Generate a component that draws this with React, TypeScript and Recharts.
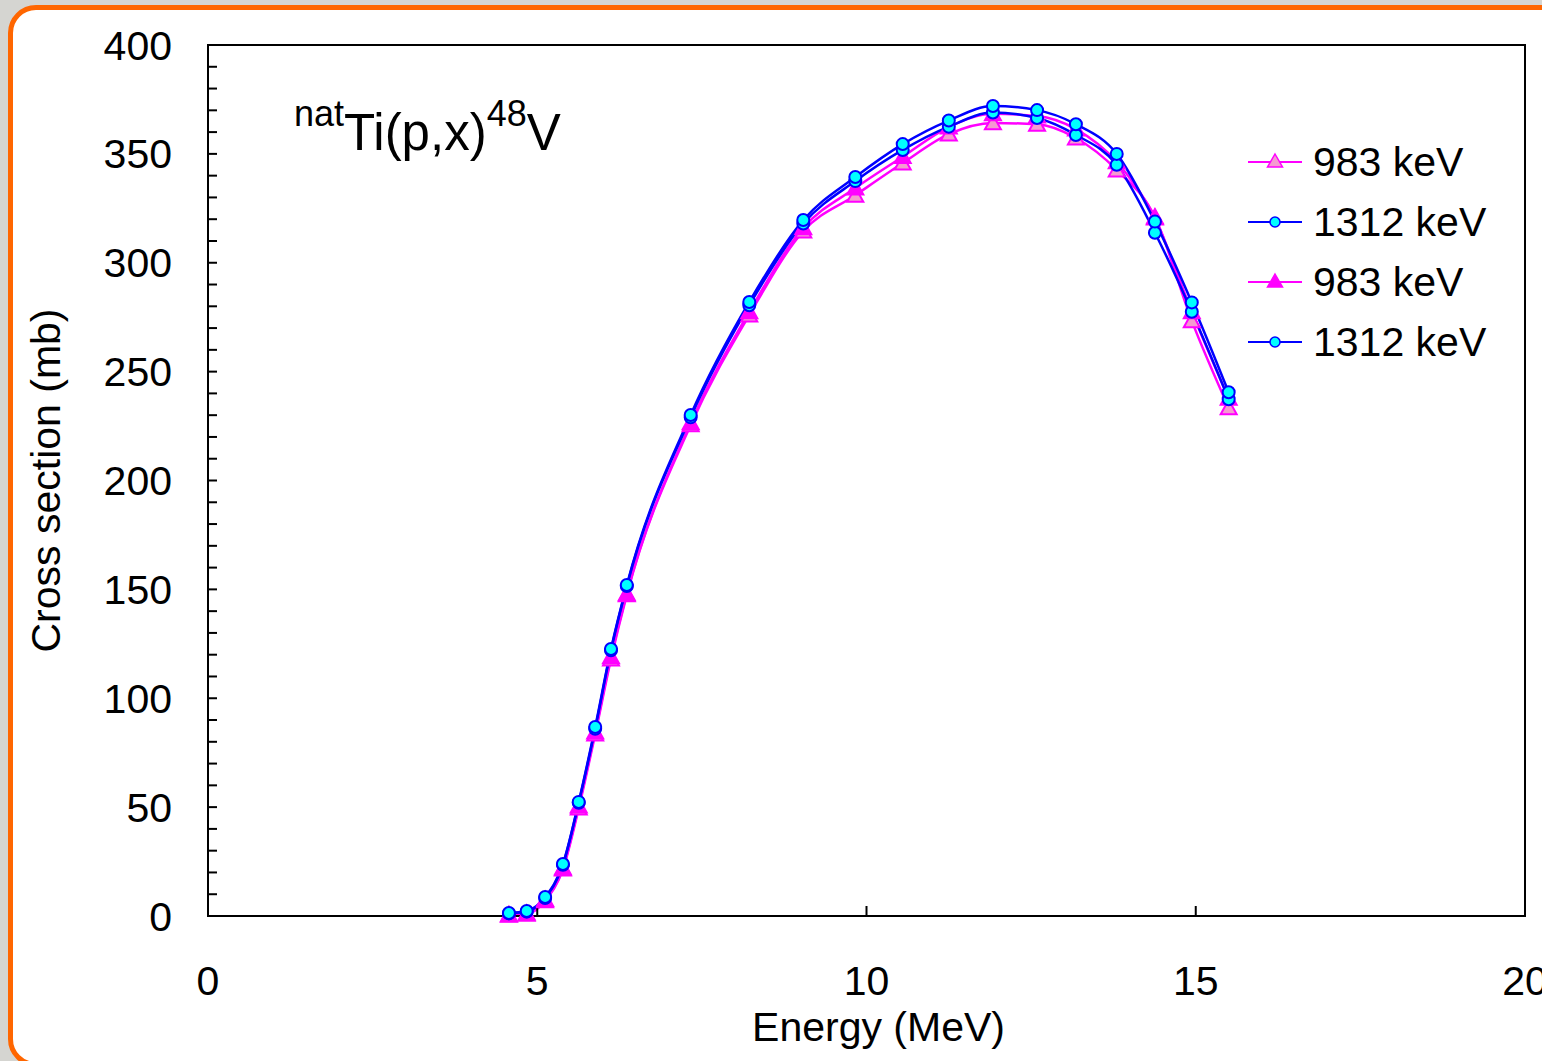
import React from 'react';
import {
  LineChart,
  Line,
  XAxis,
  YAxis,
  ReferenceArea
} from 'recharts';

// proton energy at each measured point (MeV)
const energy = [4.57, 4.84, 5.12, 5.39, 5.63, 5.88, 6.12, 6.36, 7.33, 8.22, 9.04, 9.83, 10.55, 11.25, 11.92, 12.59, 13.18, 13.80, 14.38, 14.94, 15.50];

// cross sections (mb)
const open983 = [0.3, 0.8, 7, 21.5, 49.5, 83.5, 118, 147.5, 225.5, 276, 314.5, 331, 345.8, 359.1, 364.2, 363.6, 357.3, 342.6, 321, 273.3, 233.4];
const upper1312 = [1.4, 2.3, 8.7, 23.9, 52.4, 86.8, 122.6, 152, 230.1, 282, 319.6, 339.4, 354.5, 365.3, 372, 370.1, 363.6, 350, 318.9, 281.8, 240.5];
const filled983 = [0.5, 1.2, 7.5, 22, 50.5, 84.5, 119, 148, 226.5, 277.5, 316, 334.3, 348.7, 362.3, 368.4, 367.4, 361.4, 346.3, 320.5, 277.5, 237.7];
const lower1312 = [1.2, 2, 8.3, 23.5, 52, 86, 122, 151.5, 229, 280.5, 318, 337.5, 351.8, 362.5, 369, 366.5, 358.7, 345, 313.8, 277.5, 237.3];

const xTicks = [0, 5, 10, 15, 20];
const yTicks = Array.from({ length: 41 }, (_, i) => i * 10);
const legendLabels = ['983 keV', '1312 keV', '983 keV', '1312 keV'];

const data = energy.map((e, i) => ({
  e,
  a: open983[i],
  b: upper1312[i],
  c: filled983[i],
  d: lower1312[i]
}));

const MAGENTA = '#ff00ff';
const BLUE = '#0000ff';
const CYAN = '#00ffff';
const PINK = '#f59ad0';
const FONT = '"Liberation Sans", Arial, sans-serif';

const triangle = (fill: string) => (props: any) => {
  const { cx, cy, index } = props;
  if (cx == null || cy == null) return <g key={index} />;
  const s = 8;
  return (
    <polygon
      key={index}
      points={`${cx},${cy - s} ${cx + s},${cy + s * 0.8} ${cx - s},${cy + s * 0.8}`}
      fill={fill}
      stroke={MAGENTA}
      strokeWidth={2}
    />
  );
};

const circle = (props: any) => {
  const { cx, cy, index } = props;
  if (cx == null || cy == null) return <g key={index} />;
  return <circle key={index} cx={cx} cy={cy} r={6} fill={CYAN} stroke={BLUE} strokeWidth={2} />;
};

const LegendIcon: React.FC<{ kind: number }> = ({ kind }) => {
  const color = kind % 2 === 0 ? MAGENTA : BLUE;
  return (
    <svg width={56} height={20} style={{ display: 'block' }}>
      <line x1={0} y1={10} x2={54} y2={10} stroke={color} strokeWidth={2} />
      {kind === 0 && <polygon points="27,2 34.5,15 19.5,15" fill={PINK} stroke={MAGENTA} strokeWidth={1.5} />}
      {kind === 2 && <polygon points="27,2 34.5,15 19.5,15" fill={MAGENTA} stroke={MAGENTA} strokeWidth={1.5} />}
      {kind % 2 === 1 && <circle cx={27} cy={10} r={5} fill={CYAN} stroke={BLUE} strokeWidth={1.5} />}
    </svg>
  );
};

const App: React.FC = () => {
  return (
    <div style={{ position: 'fixed', left: 0, top: 0, width: 1542, height: 1061, overflow: 'hidden', background: '#d5d5d1' }}>
      <div
        style={{
          position: 'absolute',
          left: 8,
          top: 5,
          width: 1560,
          height: 1062,
          boxSizing: 'border-box',
          border: '5px solid #ff6600',
          borderRadius: 28,
          background: '#ffffff'
        }}
      />
      <div style={{ position: 'absolute', left: 0, top: 0 }}>
        <LineChart
          width={1542}
          height={1061}
          data={data}
          margin={{ top: 45, right: 17, bottom: 65, left: 0 }}
          style={{ overflow: 'visible' }}
        >
          <XAxis
            dataKey="e"
            type="number"
            domain={[0, 20]}
            ticks={xTicks}
            height={80}
            tickSize={-10}
            tickMargin={60}
            stroke="#000"
            axisLine={{ stroke: '#000', strokeWidth: 2 }}
            tickLine={{ stroke: '#000', strokeWidth: 2 }}
            tick={{ fill: '#000', fontSize: 41, fontFamily: FONT }}
            interval={0}
            label={{
              content: (p: any) => {
                const vb = p.viewBox;
                return (
                  <text x={vb.x + vb.width / 2 + 12} y={1041} textAnchor="middle" fontSize={41} fontFamily={FONT} fill="#000">
                    Energy (MeV)
                  </text>
                );
              }
            }}
          />
          <YAxis
            type="number"
            domain={[0, 400]}
            ticks={yTicks}
            width={208}
            tickSize={-9}
            tickMargin={45}
            interval={0}
            axisLine={{ stroke: '#000', strokeWidth: 2 }}
            tickLine={{ stroke: '#000', strokeWidth: 2 }}
            tick={{ fill: '#000', fontSize: 41, fontFamily: FONT }}
            tickFormatter={(v: number) => (v % 50 === 0 ? String(v) : '')}
            label={{
              content: (p: any) => {
                const vb = p.viewBox;
                const cx = 46;
                const cy = vb.y + vb.height / 2;
                return (
                  <text
                    x={cx}
                    y={cy}
                    transform={`rotate(-90, ${cx}, ${cy})`}
                    textAnchor="middle"
                    dominantBaseline="central"
                    fontSize={41}
                    fontFamily={FONT}
                    fill="#000"
                  >
                    Cross section (mb)
                  </text>
                );
              }
            }}
          />
          <ReferenceArea x1={0} x2={20} y1={0} y2={400} fill="none" stroke="#000" strokeWidth={2} />
          <Line type="monotone" dataKey="a" stroke={MAGENTA} strokeWidth={2.5} dot={triangle(PINK)} isAnimationActive={false} />
          <Line type="monotone" dataKey="c" stroke={MAGENTA} strokeWidth={2.5} dot={triangle(MAGENTA)} isAnimationActive={false} />
          <Line type="monotone" dataKey="d" stroke={BLUE} strokeWidth={2.5} dot={circle} isAnimationActive={false} />
          <Line type="monotone" dataKey="b" stroke={BLUE} strokeWidth={2.5} dot={circle} isAnimationActive={false} />
        </LineChart>
      </div>
      <div style={{ position: 'absolute', left: 294, top: 96, fontFamily: FONT, color: '#000', whiteSpace: 'nowrap', lineHeight: 1 }}>
        <span style={{ fontSize: 36, verticalAlign: 24 }}>nat</span>
        <span style={{ fontSize: 51 }}>Ti(p,x)</span>
        <span style={{ fontSize: 36, verticalAlign: 24 }}>48</span>
        <span style={{ fontSize: 51 }}>V</span>
      </div>
      <div style={{ position: 'absolute', left: 1248, top: 132, fontFamily: FONT }}>
        {legendLabels.map((label, i) => (
          <div key={i} style={{ display: 'flex', alignItems: 'center', height: 60 }}>
            <LegendIcon kind={i} />
            <span style={{ fontSize: 41, marginLeft: 9, color: '#000', lineHeight: 1 }}>{label}</span>
          </div>
        ))}
      </div>
    </div>
  );
};

export default App;
